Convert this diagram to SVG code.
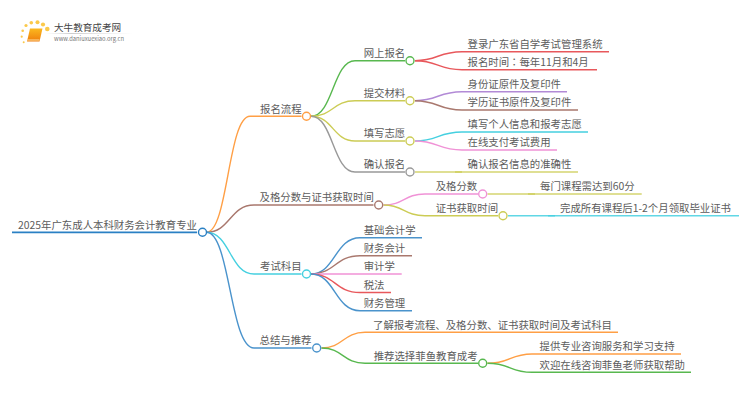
<svg xmlns="http://www.w3.org/2000/svg" width="750" height="410" viewBox="0 0 750 410">
<style>
text{font-family:"Noto Sans CJK SC","Noto Sans",sans-serif;font-size:10.4px;fill:#5c5c5c}
.tc{font-family:"Noto Sans CJK TC","Noto Sans",sans-serif}
.c{fill:none;stroke-width:1.4}
.n{fill:#fff;stroke-width:1.4}
.o{stroke:#ff9f45}.b{stroke:#a9786e}.y{stroke:#cccc55}.g{stroke:#999}.gr{stroke:#58b84f}.r{stroke:#e8585c}.p{stroke:#b28ad6}.cy{stroke:#45d0e0}.pk{stroke:#f092d6}.bl{stroke:#4a93cc}.rt{stroke:#2a80c4}
.ov{stroke-opacity:.85}
</style>
<defs>
<linearGradient id="bk" x1="0" y1="0" x2="0" y2="1"><stop offset="0" stop-color="#fbb91f"/><stop offset="1" stop-color="#ef7d0c"/></linearGradient>
<linearGradient id="ll" x1="0" y1="0" x2="1" y2="0"><stop offset="0" stop-color="#ddd" stop-opacity="0"/><stop offset=".3" stop-color="#ccc"/><stop offset="1" stop-color="#ddd" stop-opacity="0"/></linearGradient>
</defs>
<g id="logo">
<g fill="#fbc94a"><circle cx="23.7" cy="42.3" r="1"/><circle cx="21.7" cy="36.7" r="1.1"/><circle cx="22.7" cy="30.7" r="1.3"/><circle cx="26" cy="25.5" r="1.6"/><circle cx="31.3" cy="22.7" r="1.8"/><circle cx="37.5" cy="22.3" r="2"/><circle cx="43" cy="24.5" r="2.1"/><circle cx="47.3" cy="29" r="2.3"/></g>
<path d="M30 28.5H42.5L39.5 41.5H27Z" fill="url(#bk)"/>
<path d="M27.5 40H39.5" stroke="#fde0a0" stroke-width="1" fill="none"/>
<rect x="45" y="33" width="88" height="1" fill="url(#ll)"/>
<text x="54" y="31" style="font-size:9.6px;fill:#444">大牛教育成考网</text>
<text x="54" y="41" style="font-size:5.8px;fill:#777">www.daniuxuexiao.org.cn</text>
</g>
<g id="connectors">
<path class="c rt" d="M12 232.3H197" style="stroke-width:1.8"/>
<path class="c o" d="M206.5 232.3C228 232.3 228 116.3 250 116.3H301.5"/>
<path class="c b" d="M206.5 232.3C230 232.3 230 205 254 205H373.5"/>
<path class="c cy" d="M206.5 232.3C230 232.3 230 274 254 274H301.5"/>
<path class="c bl" d="M206.5 232.3C230 232.3 230 348 254 348H311.5"/>
<path class="c gr" d="M311 116.3C333 116.3 333 60.7 355 60.7H405"/>
<path class="c y" d="M311 116.3C333 116.3 333 100.7 355 100.7H405"/>
<path class="c y" d="M311 116.3C333 116.3 333 141 355 141H405"/>
<path class="c g" d="M311 116.3C333 116.3 333 172 355 172H405"/>
<path class="c r" d="M415 60.7C438 60.7 438 51.7 462 51.7H609"/>
<path class="c r" d="M415 60.7C438 60.7 438 69.7 462 69.7H597"/>
<path class="c p" d="M415 100.7C438 100.7 438 91.7 462 91.7H567"/>
<path class="c b" d="M415 100.7C438 100.7 438 110 462 110H578"/>
<path class="c cy" d="M415 141C438 141 438 132 462 132H588"/>
<path class="c pk" d="M415 141C438 141 438 150 462 150H557"/>
<path class="c y ov" d="M415 172H462"/>
<path class="c y ov" d="M455 172H578"/>
<path class="c pk" d="M383.5 205C404 205 404 194 425 194H478"/>
<path class="c y" d="M383.5 205C404 205 404 215.7 425 215.7H498"/>
<path class="c y ov" d="M487.5 194H535"/>
<path class="c y ov" d="M528 194H641.7"/>
<path class="c cy ov" d="M508 215.7H555"/>
<path class="c cy ov" d="M548 215.7H739"/>
<path class="c bl" d="M311 274C335 274 335 237.7 360 237.7H422"/>
<path class="c b" d="M311 274C335 274 335 255.7 360 255.7H412"/>
<path class="c pk" d="M311 274H401.7"/>
<path class="c r" d="M311 274C335 274 335 292.5 360 292.5H391"/>
<path class="c bl" d="M311 274C335 274 335 310.7 360 310.7H412"/>
<path class="c o" d="M321.5 348C343 348 343 332.3 365 332.3H618"/>
<path class="c gr" d="M321.5 348C343 348 343 363.3 365 363.3H478"/>
<path class="c o" d="M487.5 363.3C510 363.3 510 354 532 354H681"/>
<path class="c gr" d="M487.5 363.3C510 363.3 510 372.3 532 372.3H691"/>
</g>
<g id="root"><text x="18" y="229">2025年广东成人本科财务会计教育专业</text><circle class="n rt" cx="202.5" cy="232.3" r="4"/></g>
<g id="n1"><text x="260" y="113">报名流程</text><circle class="n o" cx="306.5" cy="116.3" r="4"/></g>
<g id="n2"><text x="363.7" y="57">网上报名</text><circle class="n gr" cx="410" cy="60.7" r="4"/></g>
<g id="n3"><text x="467.5" y="48">登录广东省自学考试管理系统</text></g>
<g id="n4"><text x="467.5" y="66">报名时间<tspan class="tc">：</tspan>每年11月和4月</text></g>
<g id="n5"><text x="363.7" y="97">提交材料</text><circle class="n y" cx="410" cy="100.7" r="4"/></g>
<g id="n6"><text x="467.5" y="88">身份证原件及复印件</text></g>
<g id="n7"><text x="467.5" y="106">学历证书原件及复印件</text></g>
<g id="n8"><text x="363.7" y="137">填写志愿</text><circle class="n y" cx="410" cy="141" r="4"/></g>
<g id="n9"><text x="467.5" y="128">填写个人信息和报考志愿</text></g>
<g id="n10"><text x="467.5" y="146">在线支付考试费用</text></g>
<g id="n11"><text x="363.7" y="168">确认报名</text><circle class="n g" cx="410" cy="172" r="4"/></g>
<g id="n12"><text x="467.5" y="168">确认报名信息的准确性</text></g>
<g id="n13"><text x="259.5" y="201">及格分数与证书获取时间</text><circle class="n b" cx="378.7" cy="205" r="4"/></g>
<g id="n14"><text x="435.7" y="190">及格分数</text><circle class="n pk" cx="482.7" cy="194" r="4"/></g>
<g id="n15"><text x="540" y="190">每门课程需达到60分</text></g>
<g id="n16"><text x="435.7" y="212">证书获取时间</text><circle class="n y" cx="503" cy="215.7" r="4"/></g>
<g id="n17"><text x="560" y="212">完成所有课程后1-2个月领取毕业证书</text></g>
<g id="n18"><text x="260" y="270">考试科目</text><circle class="n cy" cx="306.5" cy="274" r="4"/></g>
<g id="n19"><text x="363.7" y="234">基础会计学</text></g>
<g id="n20"><text x="363.7" y="252">财务会计</text></g>
<g id="n21"><text x="363.7" y="270">审计学</text></g>
<g id="n22"><text x="363.7" y="289">税法</text></g>
<g id="n23"><text x="363.7" y="307">财务管理</text></g>
<g id="n24"><text x="259.5" y="344">总结与推荐</text><circle class="n bl" cx="316.7" cy="348" r="4"/></g>
<g id="n25"><text x="373" y="328.5">了解报考流程、及格分数、证书获取时间及考试科目</text></g>
<g id="n26"><text x="373.7" y="359.5">推荐选择菲鱼教育成考</text><circle class="n gr" cx="482.7" cy="363.3" r="4"/></g>
<g id="n27"><text x="539.5" y="350">提供专业咨询服务和学习支持</text></g>
<g id="n28"><text x="539.5" y="368.5">欢迎在线咨询菲鱼老师获取帮助</text></g>
</svg>
